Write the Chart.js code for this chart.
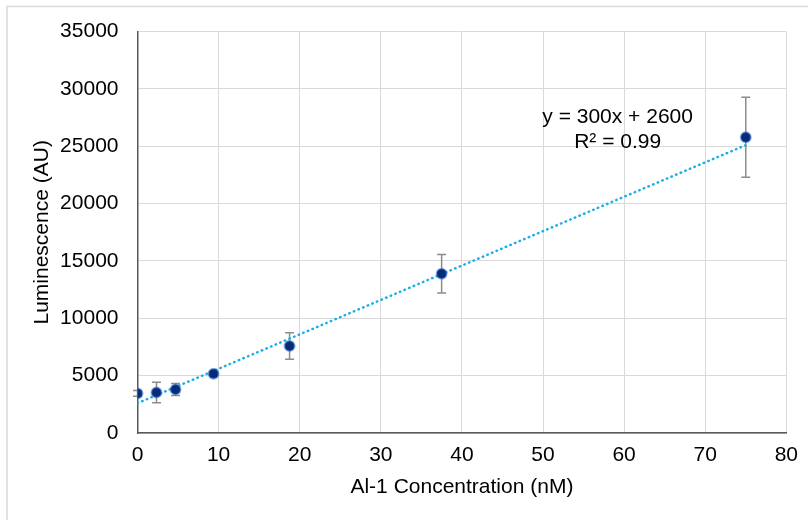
<!DOCTYPE html>
<html>
<head>
<meta charset="utf-8">
<script src="https://cdn.jsdelivr.net/npm/chart.js@4.4.0/dist/chart.umd.min.js"></script>
<style>
  body { margin: 0; background: #ffffff; }
  #wrap { width: 808px; height: 520px; }
</style>
</head>
<body>
<div id="wrap"><canvas id="chart" width="808" height="520"></canvas></div>
<script>
// Datos
const concentration = [0, 2.34, 4.69, 9.375, 18.75, 37.5, 75];
const luminescence = [3450, 3530, 3790, 5170, 7590, 13880, 25780];
const errors = [250, 900, 520, 150, 1160, 1680, 3490];

// Línea de tendencia (extremos)
const trendX = [0, 75];
const trendY = [2600, 25100];

const equationLines = ["y = 300x + 2600", "R² = 0.99"];
const equationPos = { x: 59.2, y: 27550 };

const fontFamily = "Arial, 'Liberation Sans', sans-serif";

// Barras de error
const errorBarsPlugin = {
    id: "errorBars",
    beforeDatasetsDraw(chart) {
        const ctx = chart.ctx;
        const xs = chart.scales.x;
        const ys = chart.scales.y;
        ctx.save();
        ctx.strokeStyle = "#8c8c8c";
        ctx.lineWidth = 1.5;
        concentration.forEach((c, i) => {
            const px = xs.getPixelForValue(c);
            const top = ys.getPixelForValue(luminescence[i] + errors[i]);
            const bot = ys.getPixelForValue(luminescence[i] - errors[i]);
            ctx.beginPath();
            ctx.moveTo(px, top);
            ctx.lineTo(px, bot);
            ctx.moveTo(px - 4.5, top);
            ctx.lineTo(px + 4.5, top);
            ctx.moveTo(px - 4.5, bot);
            ctx.lineTo(px + 4.5, bot);
            ctx.stroke();
        });
        ctx.restore();
    },
};

// Marco y ecuación
const decorPlugin = {
    id: "decor",
    beforeDraw(chart) {
        const ctx = chart.ctx;
        ctx.save();
        ctx.strokeStyle = "#d9d9d9";
        ctx.lineWidth = 1.5;
        ctx.strokeRect(7, 6.5, 830, 540);
        ctx.restore();
    },
    afterDraw(chart) {
        const ctx = chart.ctx;
        const px = chart.scales.x.getPixelForValue(equationPos.x);
        const py = chart.scales.y.getPixelForValue(equationPos.y);
        ctx.save();
        ctx.fillStyle = "#000000";
        ctx.font = "21px " + fontFamily;
        ctx.textAlign = "center";
        ctx.textBaseline = "middle";
        ctx.fillText(equationLines[0], px, py);
        ctx.fillText(equationLines[1], px, py + 25);
        ctx.restore();
    },
};

const ctx = document.getElementById("chart").getContext("2d");
new Chart(ctx, {
    type: "scatter",
    data: {
        datasets: [
            {
                label: "Trend",
                data: trendX.map((x, i) => ({ x: x, y: trendY[i] })),
                showLine: true,
                borderColor: "#1aaeea",
                borderWidth: 2.5,
                borderDash: [0.5, 4.5],
                borderCapStyle: "round",
                pointRadius: 0,
                order: 2,
            },
            {
                label: "Luminescence",
                data: concentration.map((x, i) => ({ x: x, y: luminescence[i] })),
                pointRadius: 5,
                pointBackgroundColor: "#062c78",
                pointBorderColor: "rgba(45, 105, 205, 0.5)",
                pointBorderWidth: 2,
                order: 1,
            },
        ],
    },
    options: {
        responsive: false,
        animation: false,
        layout: { padding: { left: 0, top: 27, right: 21, bottom: 0 } },
        plugins: {
            legend: { display: false },
            tooltip: { enabled: false },
        },
        scales: {
            x: {
                type: "linear",
                min: 0,
                max: 80,
                ticks: {
                    stepSize: 10,
                    padding: 10,
                    color: "#000000",
                    font: { size: 21, family: fontFamily },
                    callback: (v) => String(v),
                },
                grid: { color: "#d9d9d9", lineWidth: 1, drawTicks: false },
                border: { color: "#595959", width: 1.5 },
                title: {
                    display: true,
                    text: "Al-1 Concentration (nM)",
                    color: "#000000",
                    font: { size: 21, family: fontFamily },
                    padding: { top: 0, bottom: 20 },
                },
                afterFit(scale) { scale.height = 87; },
            },
            y: {
                type: "linear",
                min: 0,
                max: 35000,
                ticks: {
                    stepSize: 5000,
                    padding: 19,
                    color: "#000000",
                    font: { size: 21, family: fontFamily },
                    callback: (v) => String(v),
                },
                grid: { color: "#d9d9d9", lineWidth: 1, drawTicks: false },
                border: { color: "#595959", width: 1.5 },
                title: {
                    display: true,
                    text: "Luminescence (AU)",
                    color: "#000000",
                    font: { size: 21, family: fontFamily },
                    padding: { top: 30, bottom: 0 },
                },
                afterFit(scale) { scale.width = 137.5; },
            },
        },
    },
    plugins: [errorBarsPlugin, decorPlugin],
});
</script>
</body>
</html>
